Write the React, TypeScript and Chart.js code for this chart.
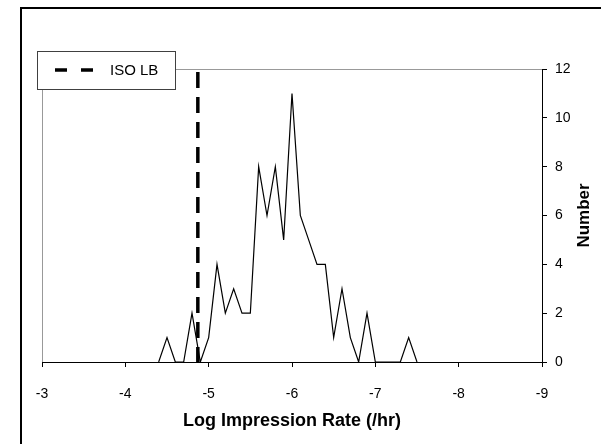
import React, { useEffect, useRef } from "react";
import { Chart, registerables } from "chart.js";

Chart.register(...registerables);

const rateBins = [
  -4.4, -4.5, -4.6, -4.7, -4.8, -4.9, -5.0, -5.1, -5.2, -5.3, -5.4, -5.5, -5.6, -5.7, -5.8, -5.9,
  -6.0, -6.1, -6.2, -6.3, -6.4, -6.5, -6.6, -6.7, -6.8, -6.9, -7.0, -7.1, -7.2, -7.3, -7.4, -7.5,
];
const counts = [
  0, 1, 0, 0, 2, 0, 1, 4, 2, 3, 2, 2, 8, 6, 8, 5,
  11, 6, 5, 4, 4, 1, 3, 1, 0, 2, 0, 0, 0, 0, 1, 0,
];
const isoLbRate = -4.87;
const isoLbSpan = [12, 0];
const xTicks = [-3, -4, -5, -6, -7, -8, -9];
const yTicks = [0, 2, 4, 6, 8, 10, 12];
const legendLabel = "ISO LB";
const xTitle = "Log Impression Rate (/hr)";
const yTitle = "Number";

const FONT = "'Liberation Sans', Arial, sans-serif";

export default function App() {
  const ref = useRef<HTMLCanvasElement | null>(null);

  useEffect(() => {
    document.body.style.margin = "0";
    const canvas = ref.current;
    if (!canvas) return;

    const framePlugin = {
      id: "frame",
      beforeDraw(chart: any) {
        const ctx = chart.ctx;
        ctx.save();
        ctx.fillStyle = "#ffffff";
        ctx.fillRect(0, 0, chart.width, chart.height);
        ctx.strokeStyle = "#000000";
        ctx.lineWidth = 2;
        ctx.beginPath();
        ctx.moveTo(21, chart.height + 5);
        ctx.lineTo(21, 8);
        ctx.lineTo(chart.width + 5, 8);
        ctx.stroke();
        ctx.restore();
      },
      beforeDatasetsDraw(chart: any) {
        const { ctx, chartArea } = chart;
        ctx.save();
        ctx.strokeStyle = "#999999";
        ctx.lineWidth = 1;
        ctx.beginPath();
        ctx.moveTo(chartArea.left + 0.5, chartArea.bottom);
        ctx.lineTo(chartArea.left + 0.5, chartArea.top + 0.5);
        ctx.lineTo(chartArea.right, chartArea.top + 0.5);
        ctx.stroke();
        ctx.restore();
      },
      afterDraw(chart: any) {
        const { ctx, chartArea } = chart;
        ctx.save();
        // legend box
        ctx.fillStyle = "#ffffff";
        ctx.fillRect(37, 51, 138, 38);
        ctx.strokeStyle = "#404040";
        ctx.lineWidth = 1;
        ctx.strokeRect(37.5, 51.5, 138, 38);
        ctx.strokeStyle = "#000000";
        ctx.lineWidth = 3.5;
        ctx.setLineDash([12, 14]);
        ctx.beginPath();
        ctx.moveTo(55, 70);
        ctx.lineTo(97, 70);
        ctx.stroke();
        ctx.setLineDash([]);
        ctx.fillStyle = "#000000";
        ctx.font = `15px ${FONT}`;
        ctx.textAlign = "left";
        ctx.textBaseline = "middle";
        ctx.fillText(legendLabel, 110, 71);
        // right axis title
        ctx.translate(584, (chartArea.top + chartArea.bottom) / 2);
        ctx.rotate(-Math.PI / 2);
        ctx.font = `bold 17px ${FONT}`;
        ctx.textAlign = "center";
        ctx.textBaseline = "middle";
        ctx.fillText(yTitle, 0, 0);
        ctx.restore();
      },
    };

    const chart = new Chart(canvas, {
      type: "line",
      data: {
        datasets: [
          {
            label: "Counts",
            data: rateBins.map((x, i) => ({ x, y: counts[i] })),
            borderColor: "#000000",
            borderWidth: 1.2,
            pointRadius: 0,
            tension: 0,
            fill: false,
          },
          {
            label: legendLabel,
            data: isoLbSpan.map((y) => ({ x: isoLbRate, y })),
            borderColor: "#000000",
            borderWidth: 3.5,
            borderDash: [16, 9],
            borderDashOffset: -3,
            pointRadius: 0,
            fill: false,
          },
        ],
      },
      options: {
        animation: false,
        responsive: false,
        devicePixelRatio: 1,
        layout: { padding: { left: 42, top: 69, right: 0, bottom: 0 } },
        plugins: {
          legend: { display: false },
          tooltip: { enabled: false },
        },
        scales: {
          x: {
            type: "linear",
            min: -9,
            max: -3,
            reverse: true,
            afterBuildTicks: (scale: any) => {
              scale.ticks = xTicks.map((v) => ({ value: v }));
            },
            afterFit: (scale: any) => {
              scale.height = 82;
            },
            grid: {
              drawOnChartArea: false,
              drawTicks: true,
              tickLength: 5,
              color: "#000000",
            },
            border: { display: true, color: "#000000", width: 1 },
            ticks: {
              autoSkip: false,
              maxRotation: 0,
              padding: 19,
              color: "#000000",
              font: { family: FONT, size: 14 },
            },
            title: {
              display: true,
              text: xTitle,
              color: "#000000",
              font: { family: FONT, size: 18, weight: "bold" },
              padding: { top: 0, bottom: 12 },
            },
          },
          y: {
            type: "linear",
            position: "right",
            min: 0,
            max: 12,
            afterBuildTicks: (scale: any) => {
              scale.ticks = yTicks.map((v) => ({ value: v }));
            },
            afterFit: (scale: any) => {
              scale.width = 59;
            },
            grid: {
              drawOnChartArea: false,
              drawTicks: true,
              tickLength: 5,
              color: "#000000",
            },
            border: { display: true, color: "#000000", width: 1 },
            ticks: {
              padding: 8,
              color: "#000000",
              font: { family: FONT, size: 14 },
            },
            title: { display: false },
          },
        },
      },
      plugins: [framePlugin],
    });

    return () => chart.destroy();
  }, []);

  return (
    <canvas
      ref={ref}
      width={601}
      height={444}
      style={{ display: "block", width: "601px", height: "444px" }}
    />
  );
}
